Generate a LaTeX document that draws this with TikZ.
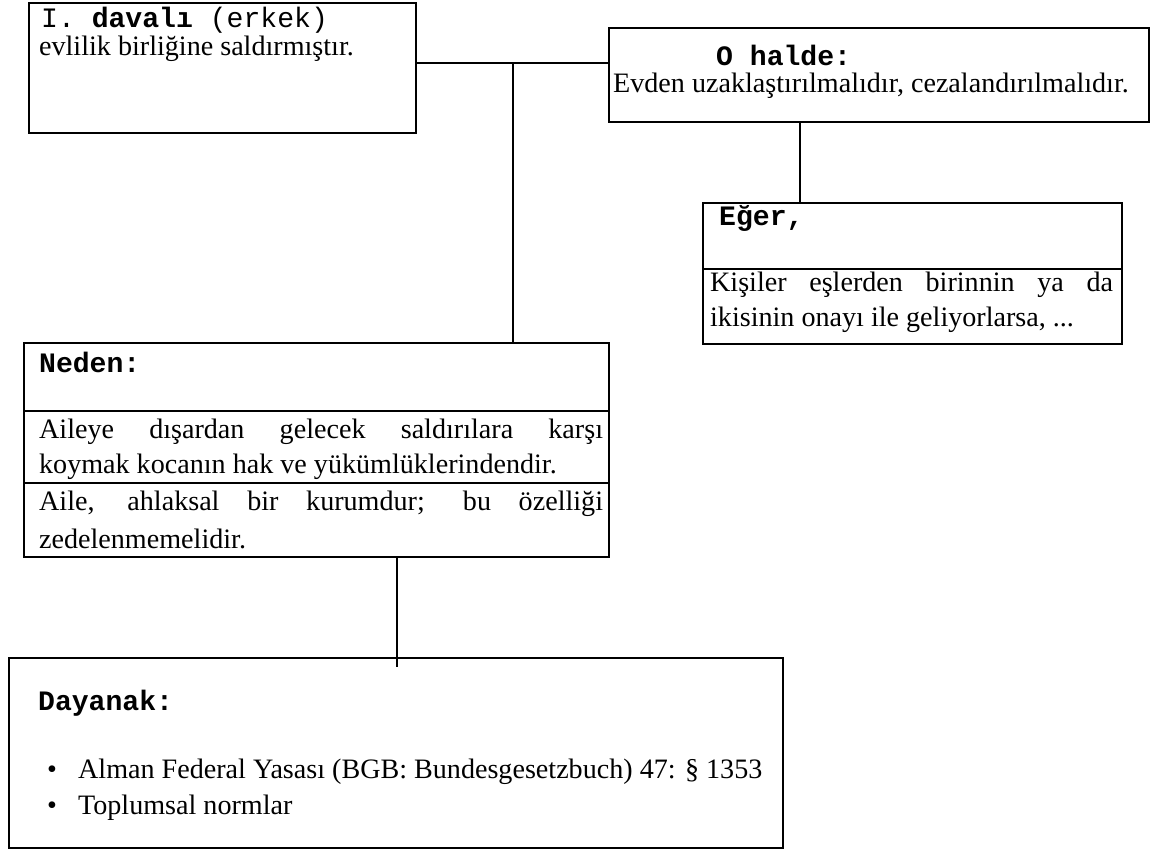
\documentclass[tikz,border=0pt]{standalone}
\usepackage{fontspec}
\setmainfont{Liberation Serif}
\setmonofont{Liberation Mono}
\newcommand\bodysize{\fontsize{16}{20}\selectfont}
\tikzset{
  box/.style={draw, line width=1.4pt, inner sep=0pt, anchor=north west},
  txt/.style={anchor=west, inner sep=0pt, font=\bodysize},
  head/.style={anchor=west, inner sep=0pt, font=\bodysize\ttfamily\bfseries},
}
\begin{document}
\begin{tikzpicture}[x=0.02cm, y=-0.02cm, line width=1.3pt]
  \useasboundingbox (0,0) rectangle (1152,850);
  % boxes
  \node[box, minimum width=7.74cm, minimum height=2.6cm] (davali) at (28,2) {};
  \node[box, minimum width=10.8cm, minimum height=1.88cm] (halde) at (608,27) {};
  \node[box, minimum width=8.38cm, minimum height=2.82cm] (eger) at (702,202) {};
  \node[box, minimum width=11.7cm, minimum height=4.28cm] (neden) at (23,342) {};
  \node[box, minimum width=15.48cm, minimum height=3.8cm] (dayanak) at (8,657) {};
  % dividers
  \coordinate (d1) at (0,269);
  \coordinate (d2) at (0,411);
  \coordinate (d3) at (0,483);
  \draw[line width=1.4pt] (eger.west |- d1) -- (eger.east |- d1);
  \draw[line width=1.4pt] (neden.west |- d2) -- (neden.east |- d2);
  \draw[line width=1.4pt] (neden.west |- d3) -- (neden.east |- d3);
  % texts
  \node[txt] (davalihead) at (40,20) {\ttfamily I. \textbf{davalı} (erkek)};
  \node[txt] (davalitext) at (38,49) {evlilik birliğine saldırmıştır.};
  \node[head] (haldehead) at (715,55) {O halde:};
  \node[txt] (haldetext) at (612,86) {Evden uzaklaştırılmalıdır, cezalandırılmalıdır.};
  \node[head] (egerhead) at (718,218) {Eğer,};
  \node[txt] (egera) at (709,285) {\makebox[8.06cm][s]{Kişiler eşlerden birinnin ya da}};
  \node[txt] (egerb) at (709,320) {ikisinin onayı ile geliyorlarsa, ...};
  \node[head] (nedenhead) at (38,362) {Neden:};
  \node[txt] (nedena) at (38,432) {\makebox[11.28cm][s]{Aileye dışardan gelecek saldırılara karşı}};
  \node[txt] (nedenb) at (38,467) {koymak kocanın hak ve yükümlüklerindendir.};
  \node[txt] (nedenc) at (38,504) {\makebox[11.28cm][s]{Aile, ahlaksal bir kurumdur; bu özelliği}};
  \node[txt] (nedend) at (38,539) {zedelenmemelidir.};
  \node[head] (dayanakhead) at (37,703) {Dayanak:};
  \node[txt] (bulleta) at (46,772) {\textbullet};
  \node[txt] (lawa) at (77,772) {Alman Federal Yasası (BGB: Bundesgesetzbuch) 47: § 1353};
  \node[txt] (bulletb) at (46,808) {\textbullet};
  \node[txt] (lawb) at (77,808) {Toplumsal normlar};
  % connectors
  \coordinate (j1) at (513,63);
  \coordinate (j2) at (800,0);
  \coordinate (j3) at (397,667);
  \begin{scope}[-]
    \draw (davali.east |- j1) -- (halde.west |- j1);
    \draw (j1) -- (neden.north -| j1);
    \draw (halde.south -| j2) -- (eger.north -| j2);
    \draw (neden.south -| j3) -- (j3);
  \end{scope}
\end{tikzpicture}
\end{document}
